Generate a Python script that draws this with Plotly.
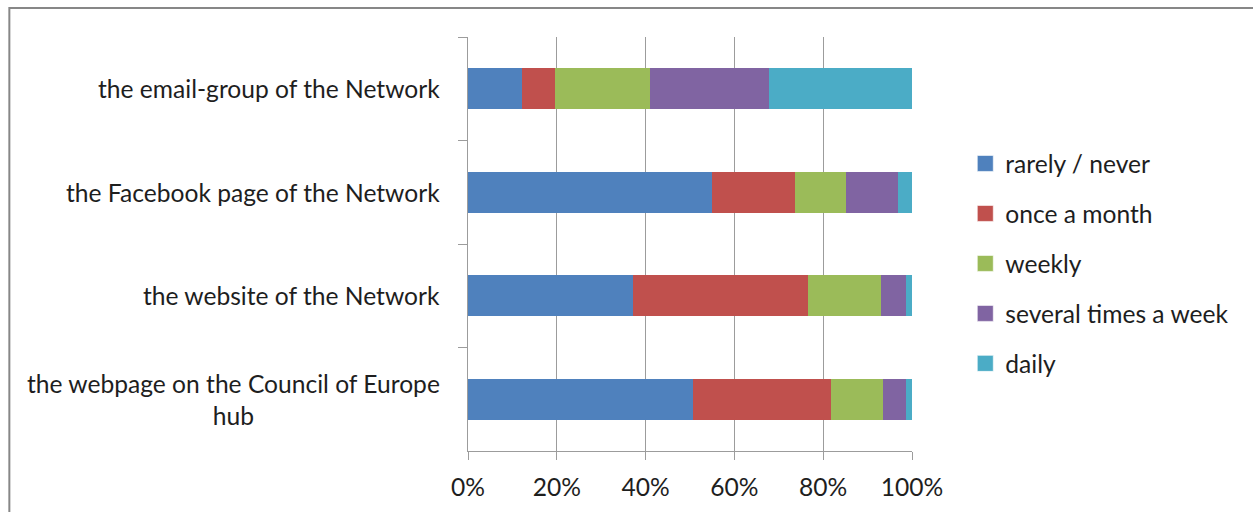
import plotly.graph_objects as go

# Channels (top to bottom) and share of respondents per frequency (fractions)
channels = [
    "the email-group of the Network",
    "the Facebook page of the Network",
    "the website of the Network",
    "the webpage on the Council of Europe<br>hub",
]
frequencies = ["rarely / never", "once a month", "weekly", "several times a week", "daily"]

rarely_never = [0.122, 0.550, 0.371, 0.506]
once_a_month = [0.075, 0.187, 0.395, 0.312]
weekly = [0.214, 0.115, 0.165, 0.117]
several_times_a_week = [0.268, 0.116, 0.056, 0.052]
daily = [0.321, 0.032, 0.013, 0.013]

series = [rarely_never, once_a_month, weekly, several_times_a_week, daily]
colors = ["#4F81BD", "#C0504D", "#9BBB59", "#8064A2", "#4BACC6"]

FONT = "Lato, Calibri, Carlito, sans-serif"
FS = 24.6
TEXT = "#1e1e1e"
GRID = "#9c9c9c"

fig = go.Figure()
for name, vals, col in zip(frequencies, series, colors):
    fig.add_trace(go.Bar(
        y=channels, x=vals, name=name, orientation="h",
        marker=dict(color=col, line=dict(width=0)),
        legendgroup=name, showlegend=False,
    ))
    # Legend entry with a larger square swatch
    fig.add_trace(go.Scatter(
        x=[None], y=[None], mode="markers", name=name, legendgroup=name,
        marker=dict(symbol="square", size=16, color=col,
                    line=dict(color="rgba(255,255,255,0.6)", width=1)),
    ))

# Category labels, right-aligned next to the axis, multi-line text centred
for ch in channels:
    fig.add_annotation(
        x=0, xref="paper", y=ch, yref="y", xanchor="right", yanchor="middle",
        xshift=-26, text=ch, showarrow=False, align="center",
        font=dict(family=FONT, size=FS, color=TEXT),
    )

# Chart-area frame
fig.add_shape(type="rect", xref="paper", yref="paper",
              x0=-1.033, x1=2.0, y0=-0.6, y1=1.07,
              line=dict(color="#878787", width=2), layer="below")

fig.update_layout(
    width=1253, height=512,
    margin=dict(l=468, r=341, t=37, b=61),
    paper_bgcolor="white", plot_bgcolor="white",
    barmode="stack", bargap=0.6,
    font=dict(family=FONT, size=FS, color=TEXT),
    showlegend=True,
    legend=dict(
        x=1.12, xanchor="left", y=0.453, yanchor="middle",
        traceorder="grouped", tracegroupgap=15, itemwidth=30,
        font=dict(family=FONT, size=FS, color=TEXT),
        bgcolor="rgba(0,0,0,0)",
    ),
    xaxis=dict(
        range=[0, 1], tickvals=[0, 0.2, 0.4, 0.6, 0.8, 1.0],
        tickformat=".0%", showgrid=True, gridcolor=GRID, gridwidth=1.3,
        showline=True, linecolor=GRID, linewidth=1.3,
        ticks="outside", ticklen=8, tickcolor=GRID, tickwidth=1.3,
        ticklabelstandoff=6,
        zeroline=False, tickfont=dict(family=FONT, size=FS, color=TEXT),
    ),
    yaxis=dict(
        categoryorder="array", categoryarray=channels, autorange="reversed",
        showticklabels=False, showline=True, linecolor=GRID, linewidth=1.3,
        ticks="outside", ticklen=9, tickcolor=GRID, tickwidth=1.3,
        tickson="boundaries", showgrid=False, zeroline=False,
    ),
)

fig.write_html("out.html")
